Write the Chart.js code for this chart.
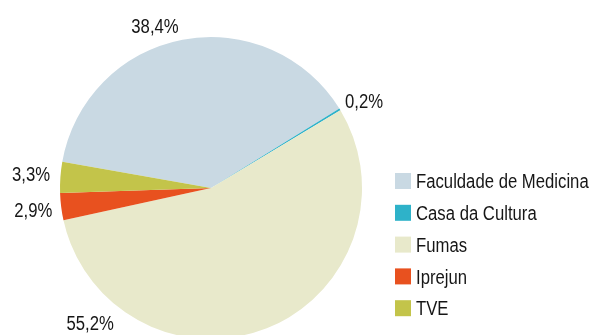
<!DOCTYPE html>
<html>
<head>
<meta charset="utf-8">
<script src="https://cdn.jsdelivr.net/npm/chart.js@4"></script>
<style>
  html, body { margin: 0; padding: 0; background: #fff; overflow: hidden; }
  #pie { display: block; }
</style>
</head>
<body>
<canvas id="pie" width="592" height="360"></canvas>
<script>
// Distribution by institution (percent)
const categories = ['Faculdade de Medicina', 'Casa da Cultura', 'Fumas', 'Iprejun', 'TVE'];
const shares = [38.4, 0.2, 55.2, 2.9, 3.3];
const valueLabels = ['38,4%', '0,2%', '55,2%', '2,9%', '3,3%'];

const sliceColors = ['#c9d9e3', '#2eb2c9', '#e8e9cb', '#e8511f', '#c3c44a'];
const FONT = '20px "Liberation Sans", Arial, sans-serif';
const NARROW = 0.835;  // squeeze Arial metrics into a condensed face
const CAP = 7.2;       // half the digit height, for vertical centring

// percent label placement: angle (deg, screen coords) and gap outside the rim
const labelAngle = [251, -29.6, 131.9, 173, 184.4];
const labelGap = [21, 25, 30, 28, 29.5];

function narrowText(ctx, text, x, y, align) {
    const w = ctx.measureText(text).width * NARROW;
    const left = align === 'center' ? x - w / 2 : x;
    ctx.save();
    ctx.translate(left, y);
    ctx.scale(NARROW, 1);
    ctx.textAlign = 'left';
    ctx.fillText(text, 0, 0);
    ctx.restore();
}

const outsideLabels = {
    id: 'outsideLabels',
    afterDatasetsDraw(chart) {
        const ctx = chart.ctx;
        const arcs = chart.getDatasetMeta(0).data;
        ctx.save();
        ctx.font = FONT;
        ctx.fillStyle = '#161616';
        ctx.textBaseline = 'alphabetic';
        arcs.forEach((arc, i) => {
            const p = arc.getProps(['x', 'y', 'outerRadius'], true);
            const a = labelAngle[i] * Math.PI / 180;
            const r = p.outerRadius + labelGap[i];
            narrowText(ctx, valueLabels[i], p.x + Math.cos(a) * r, p.y + Math.sin(a) * r + CAP, 'center');
        });
        ctx.restore();
    }
};

const sideLegend = {
    id: 'sideLegend',
    afterDraw(chart) {
        const ctx = chart.ctx;
        const x0 = 395, y0 = 181, step = 31.8, box = 16;
        ctx.save();
        ctx.font = FONT;
        ctx.textBaseline = 'alphabetic';
        categories.forEach((name, i) => {
            const y = y0 + i * step;
            ctx.fillStyle = sliceColors[i];
            ctx.fillRect(x0, y - box / 2, box, box);
            ctx.fillStyle = '#161616';
            narrowText(ctx, name, x0 + box + 5, y + CAP, 'left');
        });
        ctx.restore();
    }
};

new Chart(document.getElementById('pie'), {
    type: 'pie',
    data: {
        labels: categories,
        datasets: [{
            data: shares,
            backgroundColor: sliceColors,
            borderWidth: 0
        }]
    },
    options: {
        responsive: false,
        animation: false,
        rotation: 280,
        layout: { padding: { left: 60, top: 37, right: 230, bottom: 21 } },
        plugins: {
            legend: { display: false },
            tooltip: { enabled: false }
        }
    },
    plugins: [outsideLabels, sideLegend]
});
</script>
</body>
</html>
